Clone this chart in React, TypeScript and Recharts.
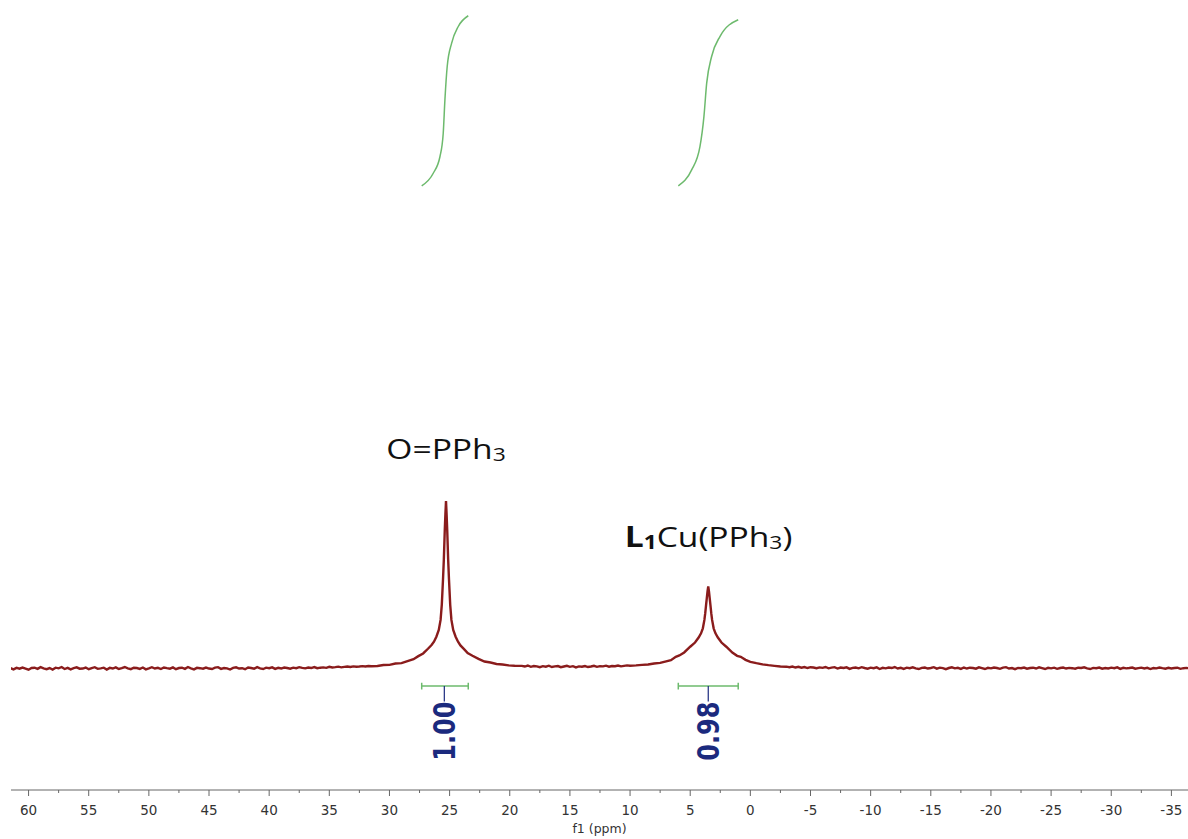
import React from 'react';
import { LineChart, Line, XAxis, YAxis } from 'recharts';

// ---- spectrum (ppm, intensity) ----
const leftStartPpm = 61.5;
const midStartPpm = 19.0;
const rightStartPpm = -3.0;
const stepPpm = 0.25;

const baselineLeft = [
  0.2, -0.5, 0.4, -0.1, 0.6, 0.0, -0.7, 0.3, 0.5, -0.2, 0.8, 0.1, -0.4, 0.3, -0.6, 0.5, 0.1, 0.9, -0.3, 0.4,
  -0.5, 0.2, 0.7, -0.1, 0.0, 0.6, -0.4, 0.3, 0.8, -0.2, 0.1, 0.5, -0.6, 0.4, 0.0, 0.7, -0.3, 0.2, 0.9, 0.1,
  -0.4, 0.5, 0.3, -0.2, 0.6, -0.5, 0.1, 0.8, 0.0, 0.4, -0.3, 0.6, 0.2, -0.1, 0.7, -0.4, 0.3, 0.5, -0.2, 0.9,
  0.1, -0.5, 0.4, 0.2, -0.1, 0.6, 0.0, -0.3, 0.5, 0.8, -0.2, 0.3, 0.1, -0.6, 0.4, 0.7, 0.0, 0.2, -0.4, 0.6,
  0.3, -0.1, 0.8, 0.1, -0.3, 0.5, 0.2, 0.7, -0.2, 0.4, 0.0, 0.6, 0.3, -0.1, 0.5, 0.2, 0.8, 0.4, 0.1, 0.6,
  0.3, 0.9, 0.2, 0.5, 0.7, 0.4, 1.0, 0.6, 0.8, 1.1, 0.7, 1.0, 1.2, 0.9, 1.3, 1.1, 1.2, 1.4, 1.2, 1.5,
  1.4,
];

const peak1Ppm = [
  31.0, 30.5, 30.0, 29.5, 29.0, 28.5, 28.0, 27.6, 27.2, 26.8, 26.5, 26.3, 26.1, 25.9,
  25.75, 25.65, 25.55, 25.48, 25.4, 25.35, 25.3, 25.25, 25.2, 25.12, 25.05, 24.95, 24.85,
  24.7, 24.5, 24.3, 24.1, 23.8, 23.5, 23.1, 22.6, 22.1, 21.6, 21.1, 20.6, 20.1, 19.6,
];
const peak1Int = [
  1.5, 2.1, 2.2, 3.0, 3.2, 4.4, 5.6, 7.4, 9.0, 11.8, 14.0, 16.0, 19.0, 23.0,
  29.0, 38.0, 53.0, 65.0, 83.0, 92.0, 100.0, 92.0, 83.0, 65.0, 53.0, 38.0, 29.0,
  23.0, 19.0, 16.0, 13.8, 11.6, 9.2, 7.6, 5.8, 4.2, 3.6, 2.7, 2.4, 1.9, 1.7,
];

const baselineMid = [
  1.6, 1.2, 1.8, 1.0, 1.5, 1.3, 0.8, 1.4, 1.1, 1.7, 0.9, 1.3, 1.5, 0.8, 1.2, 1.6, 1.0, 1.4, 0.7, 1.3,
  1.1, 1.5, 0.9, 1.2, 1.6, 1.0, 1.4, 1.3, 1.7, 1.1, 1.5, 1.4, 1.8, 1.3, 1.6, 1.9, 1.7,
];

const peak2Ppm = [
  9.5, 9.0, 8.5, 8.0, 7.5, 7.0, 6.6, 6.2, 5.9, 5.5, 5.0, 4.6, 4.3, 4.1,
  3.95, 3.82, 3.75, 3.68, 3.62, 3.56, 3.5, 3.44, 3.38, 3.32, 3.25, 3.18, 3.05,
  2.9, 2.7, 2.4, 2.0, 1.5, 1.1, 0.8, 0.4, 0.0, -0.5, -1.0, -1.5, -2.0, -2.5,
];
const peak2Int = [
  1.9, 2.2, 2.4, 3.0, 3.4, 4.3, 5.0, 7.0, 7.8, 9.6, 13.0, 15.5, 18.5, 21.0,
  24.0, 29.0, 33.0, 38.0, 42.0, 46.0, 49.0, 46.0, 42.0, 38.0, 33.0, 29.0, 24.0,
  21.0, 18.5, 15.5, 13.0, 9.5, 7.6, 7.0, 5.2, 4.0, 3.2, 2.5, 2.0, 1.6, 1.2,
];

const baselineRight = [
  1.1, 0.8, 1.2, 0.6, 1.0, 0.5, 0.9, 0.3, 0.8, 0.6, 0.2, 0.7, 0.4, 0.9, 0.1, 0.5, 0.8, 0.0, 0.6, 0.3,
  0.7, -0.2, 0.4, 0.6, 0.1, 0.8, 0.3, -0.1, 0.5, 0.2, 0.7, -0.3, 0.4, 0.1, 0.6, 0.3, 0.9, 0.0, 0.4, -0.2,
  0.5, 0.2, 0.7, 0.1, -0.3, 0.4, 0.6, 0.0, 0.3, 0.8, -0.1, 0.5, 0.2, -0.4, 0.3, 0.7, 0.1, 0.4, -0.2, 0.6,
  0.0, 0.5, 0.3, -0.1, 0.7, 0.2, -0.3, 0.4, 0.1, 0.6, 0.3, -0.2, 0.5, 0.8, 0.0, 0.3, -0.4, 0.4, 0.2, 0.6,
  -0.1, 0.3, 0.5, 0.0, 0.7, 0.2, -0.3, 0.4, 0.1, 0.5, -0.2, 0.3, 0.6, 0.0, 0.4, 0.2, -0.1, 0.5, 0.3, 0.7,
  0.1, -0.3, 0.4, 0.2, 0.6, -0.1, 0.3, 0.0, 0.5, 0.2, 0.7, -0.2, 0.4, 0.1, 0.3, 0.6, -0.1, 0.2, 0.5, 0.0,
  0.4, -0.3, 0.3, 0.1, 0.6, 0.2, -0.1, 0.4, 0.0, 0.3, 0.5, -0.2, 0.2, 0.4, 0.1,
];

// ---- integral curves ----
const integral1Ppm = [27.32, 26.36, 25.8, 25.53, 25.39, 25.2, 24.83, 24.28, 23.45];
const integral1Val = [288.1, 295.6, 305.6, 319.5, 339.4, 359.3, 373.3, 383.2, 389.6];
const integral2Ppm = [5.99, 4.88, 4.19, 3.86, 3.63, 3.22, 2.53, 1.01];
const integral2Val = [288.1, 297.6, 311.5, 329.4, 349.4, 365.3, 377.2, 387.2];

// ---- integration ranges ----
const rangeStart = [27.32, 5.99];
const rangeEnd = [23.45, 1.01];
const rangeCenter = [25.44, 3.5];
const rangeLabels = ['1.00', '0.98'];
const rangeBarLevel = -10.45;
const rangeCap = 2.0;
const rangeTickBottom = -19.7;
const rangeLabelLevel = -37.4;

// ---- peak annotations ----
const annotPpm = [25.3, 3.48];
const annotLevel = [125.0, 72.5];
const annotKeys = ['opph3', 'l1cu'];

// ---- axis ----
const majorTicks = [60, 55, 50, 45, 40, 35, 30, 25, 20, 15, 10, 5, 0, -5, -10, -15, -20, -25, -30, -35];
const minorTicks = [57.5, 52.5, 47.5, 42.5, 37.5, 32.5, 27.5, 22.5, 17.5, 12.5, 7.5, 2.5, -2.5, -7.5, -12.5, -17.5, -22.5, -27.5, -32.5];
const xDomain: [number, number] = [-36.38, 61.46];
const yDomain: [number, number] = [-72.5, 399];

const spectrum = [
  ...baselineLeft.map((y, i) => ({ x: leftStartPpm - i * stepPpm, y })),
  ...peak1Ppm.map((x, i) => ({ x, y: peak1Int[i] })),
  ...baselineMid.map((y, i) => ({ x: midStartPpm - i * stepPpm, y })),
  ...peak2Ppm.map((x, i) => ({ x, y: peak2Int[i] })),
  ...baselineRight.map((y, i) => ({ x: rightStartPpm - i * stepPpm, y })),
];

const integral1 = integral1Ppm.map((x, i) => ({ x, y: integral1Val[i] }));
const integral2 = integral2Ppm.map((x, i) => ({ x, y: integral2Val[i] }));

const rangeBars = rangeStart.map((s, i) => [
  { x: s, y: rangeBarLevel + rangeCap },
  { x: s, y: rangeBarLevel - rangeCap },
  { x: s, y: rangeBarLevel },
  { x: rangeEnd[i], y: rangeBarLevel },
  { x: rangeEnd[i], y: rangeBarLevel + rangeCap },
  { x: rangeEnd[i], y: rangeBarLevel - rangeCap },
]);
const rangeTicks = rangeCenter.map((c) => [
  { x: c, y: rangeBarLevel },
  { x: c, y: rangeTickBottom },
]);
const rangeLabelData = rangeCenter.map((c, i) => ({ x: c, y: rangeLabelLevel, label: rangeLabels[i] }));
const annotData = annotPpm.map((x, i) => ({ x, y: annotLevel[i], key: annotKeys[i] }));

const GREEN = '#6dba6d';
const NAVY = '#1b2a7e';
const RED = '#8a1c1c';
const ANNOT_FONT = "'Open Sans', 'Noto Sans', sans-serif";

const AxisTick = (props: any) => {
  const { x, y, payload } = props;
  const v = payload.value;
  const major = majorTicks.includes(v);
  return (
    <g>
      <line x1={x} x2={x} y1={y} y2={y + (major ? 6 : 3)} stroke="#666" strokeWidth={1} />
      {major && (
        <text x={x} y={y + 25} textAnchor="middle" fontFamily="'DejaVu Sans', Verdana, sans-serif" fontSize={13.5} fill="#333">
          {v}
        </text>
      )}
    </g>
  );
};

const renderRangeLabel = (props: any) => {
  const { cx, cy, payload, index } = props;
  if (cx == null || cy == null) return <g key={`rl-${index}`} />;
  return (
    <g key={`rl-${index}`} transform={`translate(${cx},${cy}) scale(1.25,1) rotate(-90)`}>
      <text x={0} y={0} textAnchor="middle" dominantBaseline="central" fontFamily="'DejaVu Sans', Verdana, sans-serif" fontWeight={700} fontSize={24} fill={NAVY}>
        {payload.label}
      </text>
    </g>
  );
};

const renderAnnot = (props: any) => {
  const { cx, cy, payload, index } = props;
  if (cx == null || cy == null) return <g key={`an-${index}`} />;
  const content =
    payload.key === 'opph3' ? (
      <>
        O=PPh<tspan fontSize={19} dy={2}>3</tspan>
      </>
    ) : (
      <>
        <tspan fontWeight={700}>L</tspan>
        <tspan fontWeight={700} fontSize={19} dy={2}>1</tspan>
        <tspan dy={-2}>Cu(PPh</tspan>
        <tspan fontSize={19} dy={2}>3</tspan>
        <tspan dy={-2}>)</tspan>
      </>
    );
  return (
    <g key={`an-${index}`} transform={`translate(${cx},${cy}) scale(1.2,1)`}>
      <text x={0} y={0} textAnchor="middle" fontFamily={ANNOT_FONT} fontSize={28} fill="#111">
        {content}
      </text>
    </g>
  );
};

const AxisTitle = (props: any) => {
  const vb = props.viewBox || { x: 0, y: 0, width: 0 };
  return (
    <text x={vb.x + vb.width / 2} y={vb.y + 43} textAnchor="middle" fontFamily="'DejaVu Sans', Verdana, sans-serif" fontSize={12.5} fill="#333">
      f1 (ppm)
    </text>
  );
};

export default function App() {
  return (
    <div style={{ position: 'absolute', left: 0, top: 0, background: '#fff' }}>
      <LineChart width={1188} height={839} margin={{ top: 0, right: 0, left: 11, bottom: 9 }}>
        <XAxis
          type="number"
          dataKey="x"
          domain={xDomain}
          reversed
          allowDataOverflow
          ticks={[...majorTicks, ...minorTicks]}
          interval={0}
          tickSize={0}
          tickMargin={0}
          tickLine={false}
          tick={<AxisTick />}
          height={40}
          axisLine={{ stroke: '#666', strokeWidth: 1 }}
          label={{ content: <AxisTitle /> } as any}
        />
        <YAxis type="number" domain={yDomain} hide allowDataOverflow />
        <Line data={spectrum} dataKey="y" type="linear" stroke={RED} strokeWidth={2.4} dot={false} activeDot={false} isAnimationActive={false} />
        <Line data={integral1} dataKey="y" type="monotone" stroke={GREEN} strokeWidth={1.5} dot={false} activeDot={false} isAnimationActive={false} />
        <Line data={integral2} dataKey="y" type="monotone" stroke={GREEN} strokeWidth={1.5} dot={false} activeDot={false} isAnimationActive={false} />
        {rangeBars.map((d, i) => (
          <Line key={`rb-${i}`} data={d} dataKey="y" type="linear" stroke={GREEN} strokeWidth={1.5} dot={false} activeDot={false} isAnimationActive={false} />
        ))}
        {rangeTicks.map((d, i) => (
          <Line key={`rt-${i}`} data={d} dataKey="y" type="linear" stroke={NAVY} strokeWidth={1.2} dot={false} activeDot={false} isAnimationActive={false} />
        ))}
        <Line data={rangeLabelData} dataKey="y" stroke="none" dot={renderRangeLabel} activeDot={false} isAnimationActive={false} />
        <Line data={annotData} dataKey="y" stroke="none" dot={renderAnnot} activeDot={false} isAnimationActive={false} />
      </LineChart>
    </div>
  );
}
